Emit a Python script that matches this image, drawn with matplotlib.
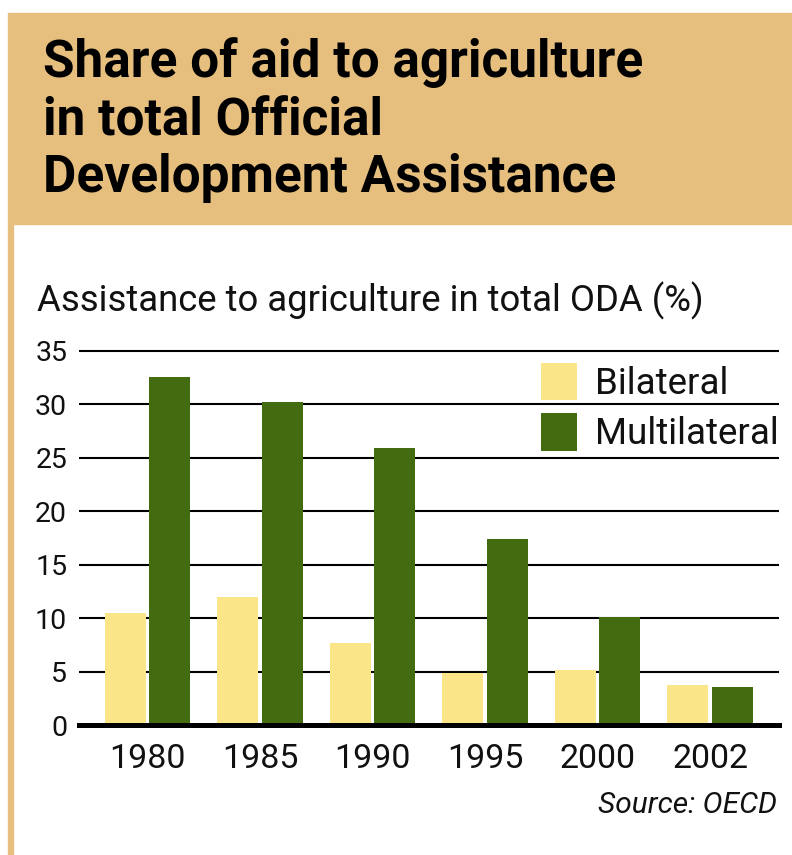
import numpy as np
import matplotlib.pyplot as plt
from matplotlib.patches import Rectangle

# data
years = ['1980', '1985', '1990', '1995', '2000', '2002']
bilateral = [10.5, 12.0, 7.7, 4.9, 5.1, 3.7]
multilateral = [32.6, 30.2, 25.9, 17.4, 10.1, 3.6]
yticks = [0, 5, 10, 15, 20, 25, 30, 35]
title_lines = ['Share of aid to agriculture', 'in total Official',
               'Development Assistance']

tan = '#e6bf7e'
yellow = '#fae589'
green = '#436b0f'

W, H = 792, 855
fig = plt.figure(figsize=(W / 100, H / 100), dpi=100)

# header box and left rule
fig.patches.append(Rectangle((8 / W, (H - 224) / H), 1 - 8 / W, 211 / H,
                             transform=fig.transFigure, color=tan, zorder=0))
fig.patches.append(Rectangle((8 / W, 0), 5 / W, (H - 224) / H,
                             transform=fig.transFigure, color=tan, zorder=0))

font = ['Roboto', 'DejaVu Sans']

# title, one line at a time (baselines from the reference)
for line, base in zip(title_lines, [77, 135, 192]):
    fig.text(43 / W, (H - base) / H, line, family=font, weight='bold',
             fontsize=37, va='baseline', ha='left')

fig.text(37 / W, (H - 311) / H, 'Assistance to agriculture in total ODA (%)',
         family=font, fontsize=26.3, va='baseline', ha='left', color='#111111')

fig.text(777 / W, (H - 813) / H, 'Source: OECD', family=font,
         style='italic', fontsize=21.5, va='baseline', ha='right', color='#111111')

# chart area
ymax = 35.5
ax = fig.add_axes([79 / W, 130 / H, 700 / W, ymax * 10.69 / H])
x = np.arange(len(years))
off, bw = 0.198, 0.364
ax.bar(x - off, bilateral, bw, color=yellow, label='Bilateral', zorder=2)
ax.bar(x + off, multilateral, bw, color=green, label='Multilateral', zorder=2)

ax.set_xlim(-0.609, 5.613)
ax.set_ylim(0, ymax)
ax.set_yticks(yticks)
ax.set_xticks(x)
ax.set_xticklabels(years)
ax.grid(axis='y', color='black', lw=1.5, zorder=1)
ax.set_axisbelow(True)
ax.axhline(0, color='black', lw=3.6, zorder=3, clip_on=False)
for s in ax.spines.values():
    s.set_visible(False)
ax.tick_params(axis='both', length=0, colors='#111111')
ax.tick_params(axis='y', labelsize=20.5, pad=8.5)
ax.tick_params(axis='x', labelsize=24.5, pad=13)
for lab in ax.get_xticklabels() + ax.get_yticklabels():
    lab.set_family(font)

leg = ax.legend(loc='upper right', bbox_to_anchor=(1.0, 0.955), frameon=False,
                prop={'family': font, 'size': 26.5},
                handlelength=0.98, handleheight=1.2, handletextpad=0.5,
                labelspacing=0.3, borderpad=0, borderaxespad=0)
for t in leg.get_texts():
    t.set_color('#111111')

fig.savefig('out.png', dpi=100)
